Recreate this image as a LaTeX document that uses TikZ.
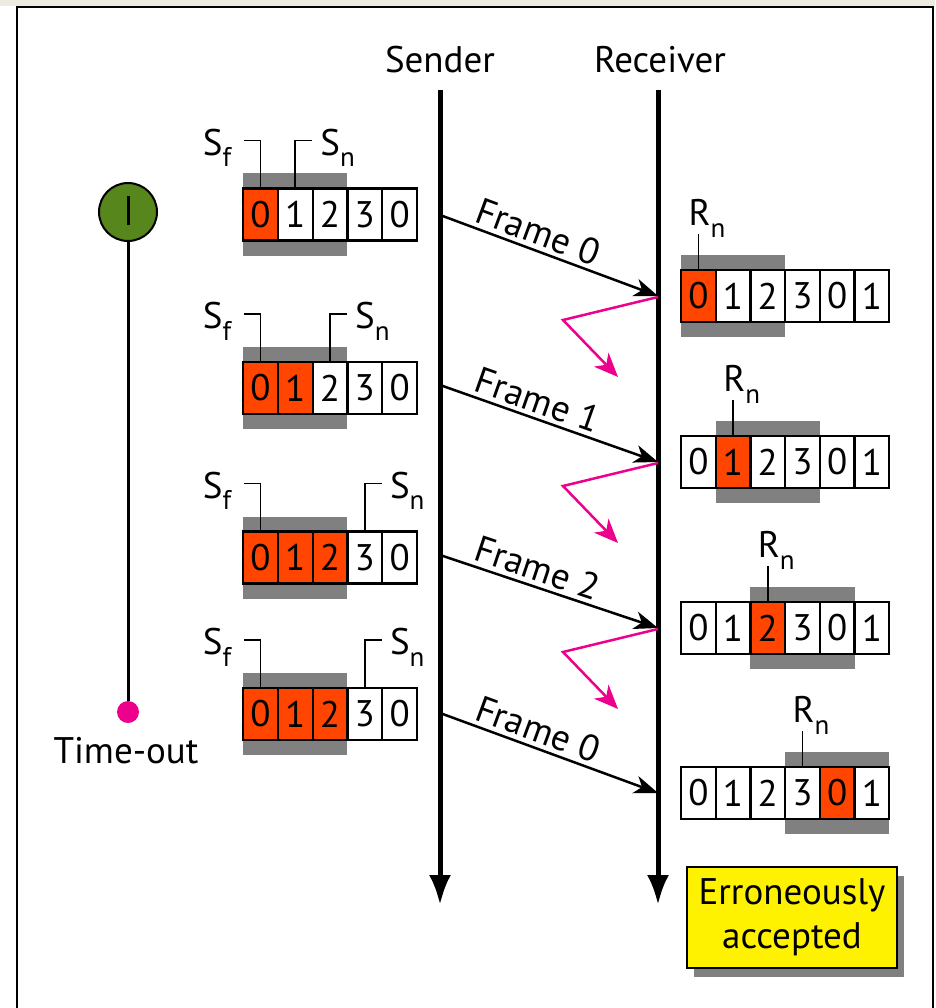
\documentclass[tikz,border=0pt]{standalone}
\usepackage{fontspec}
\setmainfont{PT Sans}
\usetikzlibrary{arrows.meta,calc}
\definecolor{cellred}{RGB}{255,69,0}
\definecolor{wingray}{RGB}{128,128,128}
\definecolor{ackpink}{RGB}{236,0,140}
\definecolor{timergreen}{RGB}{86,134,28}
\definecolor{topband}{RGB}{238,234,226}
\newcommand\mysub[1]{\raisebox{-.3em}{\fontsize{27}{27}\selectfont #1}}
\begin{document}
\begin{tikzpicture}[x=1pt,y=-1pt,
  txt/.style={font=\fontsize{37}{44}\selectfont, inner sep=0pt},
  cell/.style={draw, line width=2.2pt, minimum width=34.8pt, minimum height=52pt, inner sep=0pt, font=\fontsize{37}{44}\selectfont},
  ptr/.style={line width=1.6pt},
  lifeline/.style={line width=5pt, -{Latex[length=30pt,width=22pt]}},
  framearrow/.style={line width=2.5pt, -{Stealth[length=24pt,width=18pt,inset=7pt]}},
  ack/.style={draw=ackpink, line width=2.5pt, -{Stealth[length=24pt,width=20pt,inset=7pt]}}
]
\useasboundingbox (0,0) rectangle (935,1008);
% outer frame
\fill[topband] (0,0) rectangle (935,6);
\draw[line width=2.5pt] (17,1030) -- (17,7) -- (933,7) -- (933,1030);

% lifelines
\coordinate (stop) at (440,90);
\coordinate (sbot) at (440,905);
\coordinate (rtop) at (658,90);
\coordinate (rbot) at (658,905);
\node[txt, anchor=base] (sl) at (440,73) {Sender};
\node[txt, anchor=base] (rl) at (660,73) {Receiver};
\draw[lifeline] (stop) -- (sbot);
\draw[lifeline] (rtop) -- (rbot);

% sender windows
\foreach \r/\yc/\nred/\snp in {1/214.5/1/1, 2/388/2/2, 3/557.5/3/3, 4/714/3/3}{
  \fill[wingray] (243,\yc-41) rectangle (243+3*34.8,\yc+41);
  \foreach \d [count=\i from 0] in {0,1,2,3,0}{
    \ifnum\i<\nred\relax\def\fc{cellred}\else\def\fc{white}\fi
    \node[cell, fill=\fc] (s\r c\i) at (260.4+\i*34.8,\yc) {\d};
  }
  \draw[ptr] (s\r c0.north) -- ++(0,-47) -- ++(-16,0) coordinate (sf\r);
  \draw[ptr] (s\r c\snp.north) -- ++(0,-47) -- ++(17,0) coordinate (sn\r);
  \node[txt, anchor=base east] (sfl\r) at ($(sf\r)+(-13,15)$) {S\mysub{f}};
  \node[txt, anchor=base west] (snl\r) at ($(sn\r)+(8,15)$) {S\mysub{n}};
}

% receiver windows
\foreach \r/\yc/\red/\gs/\rn in {1/296/0/0/0, 2/462/1/1/1, 3/628/2/2/2, 4/793/4/3/3}{
  \fill[wingray] (681+\gs*34.7,\yc-41) rectangle ++(3*34.7,82);
  \foreach \d [count=\i from 0] in {0,1,2,3,0,1}{
    \ifnum\i=\red\relax\def\fc{cellred}\else\def\fc{white}\fi
    \node[cell, minimum width=34.7pt, fill=\fc] (r\r c\i) at (698.35+\i*34.7,\yc) {\d};
  }
  \draw[ptr] (r\r c\rn.north) -- ++(0,-35) coordinate (rn\r);
  \node[txt, anchor=base west] (rnl\r) at ($(rn\r)+(-10,-8)$) {R\mysub{n}};
}

% frames and acks
\foreach \r/\ys/\yr/\lab in {1/215/296/Frame 0, 2/385/462/Frame 1, 3/555/628/Frame 2, 4/713/793/Frame 0}{
  \coordinate (fs\r) at (440,\ys);
  \coordinate (fr\r) at (658,\yr);
  \draw[framearrow] (fs\r) -- (fr\r) node[txt, sloped, above=4pt, pos=0.42] {\lab};
}
\foreach \r in {1,2,3}{
  \coordinate (aa\r) at ($(fr\r)+(0,1)$);
  \coordinate (ab\r) at ($(fr\r)+(-95,24)$);
  \coordinate (ac\r) at ($(fr\r)+(-40,81)$);
  \draw[ack] (aa\r) -- (ab\r) -- (ac\r);
}

% timer
\node[circle, draw, line width=2pt, fill=timergreen, minimum size=58pt, inner sep=0pt] (timer) at (128,212) {};
\draw[line width=3pt] ($(timer.center)+(0,-16)$) -- ($(timer.center)+(0,13)$);
\node[circle, fill=ackpink, minimum size=22pt, inner sep=0pt] (tout) at (128,712) {};
\draw[line width=3pt] (timer.south) -- (tout.north);
\node[txt, anchor=base] (toutl) at (126,763) {Time-out};

% erroneously accepted
\fill[wingray] (694,876) rectangle (904,977);
\node[txt, draw, line width=2pt, fill=yellow, minimum width=210pt, minimum height=101pt, align=center] (err) at (792,917.5) {Erroneously\\accepted};
\end{tikzpicture}
\end{document}
